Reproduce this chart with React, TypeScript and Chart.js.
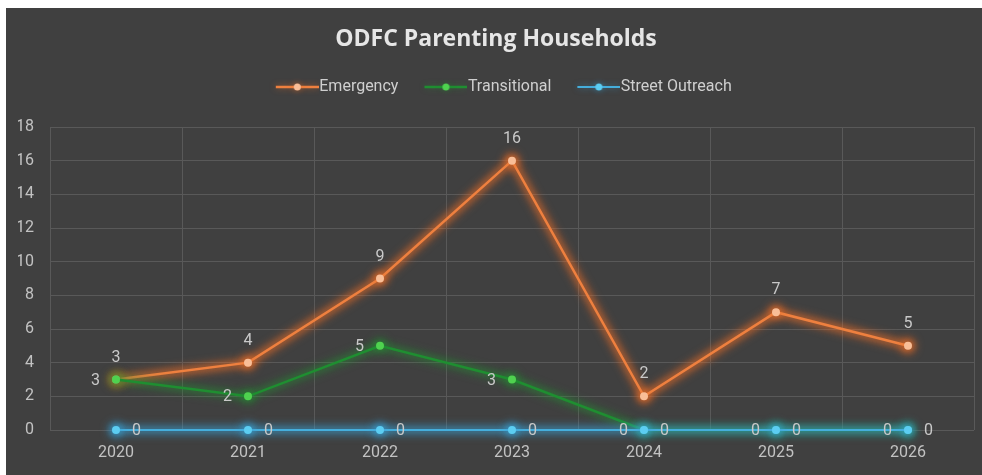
import React, { useEffect, useRef } from "react";
import { Chart, registerables } from "chart.js";

Chart.register(...registerables);

// ---- data ----
const categories = ["2020", "2021", "2022", "2023", "2024", "2025", "2026"];
const emergency = [3, 4, 9, 16, 2, 7, 5];
const transitional = [3, 2, 5, 3, 0, 0, 0];
const streetOutreach = [0, 0, 0, 0, 0, 0, 0];
const seriesNames = ["Emergency", "Transitional", "Street Outreach"];
const yMin = 0;
const yMax = 18;
const yStep = 2;
const chartTitle = "ODFC Parenting Households";

// ---- styles ----
const seriesStyles = [
  { line: "#EE803F", point: "#F9BE97", glow: "rgba(235,110,40,0.55)", width: 2.5, label: "above" },
  { line: "#1F8E31", point: "#4FD24F", glow: "rgba(35,150,50,0.4)", width: 2.5, label: "left" },
  { line: "#45AEDC", point: "#5CCDF2", glow: "rgba(55,170,225,0.5)", width: 2, label: "right" },
];

const BOX_W = 51;
const ICON_W = 66;
const LINE_LEN = 43;

function makeLegendIcon(s: any): HTMLCanvasElement {
  const c = document.createElement("canvas");
  c.width = ICON_W;
  c.height = 18;
  const ctx = c.getContext("2d")!;
  ctx.shadowColor = s.glow;
  ctx.shadowBlur = 6;
  ctx.strokeStyle = s.line;
  ctx.lineWidth = s.width;
  ctx.beginPath();
  ctx.moveTo(ICON_W - LINE_LEN, 9);
  ctx.lineTo(ICON_W, 9);
  ctx.stroke();
  ctx.fillStyle = s.point;
  ctx.beginPath();
  ctx.arc(ICON_W - LINE_LEN / 2, 9, 3.5, 0, Math.PI * 2);
  ctx.fill();
  return c;
}

// soft halo drawn under each series (Excel-style glow)
const glowPlugin = {
  id: "glowPlugin",
  beforeDatasetDraw(chart: any, args: any) {
    const s = seriesStyles[args.index];
    const ctx = chart.ctx;
    const pts = args.meta.data;
    ctx.save();
    ctx.filter = "blur(4px)";
    ctx.strokeStyle = s.glow;
    ctx.lineWidth = 9;
    ctx.lineJoin = "round";
    ctx.lineCap = "round";
    ctx.beginPath();
    pts.forEach((p: any, k: number) => {
      const { x, y } = p.getProps(["x", "y"], true);
      if (k === 0) ctx.moveTo(x, y);
      else ctx.lineTo(x, y);
    });
    ctx.stroke();
    ctx.fillStyle = s.glow;
    pts.forEach((p: any) => {
      const { x, y } = p.getProps(["x", "y"], true);
      ctx.beginPath();
      ctx.arc(x, y, 8, 0, Math.PI * 2);
      ctx.fill();
    });
    ctx.restore();
    ctx.save();
    ctx.shadowColor = s.glow;
    ctx.shadowBlur = 6;
  },
  afterDatasetDraw(chart: any) {
    chart.ctx.restore();
  },
};

const dataLabelPlugin = {
  id: "dataLabelPlugin",
  afterDatasetsDraw(chart: any) {
    const ctx = chart.ctx;
    ctx.save();
    ctx.font = "16px Roboto";
    ctx.fillStyle = "#c9c9c9";
    ctx.textBaseline = "middle";
    chart.data.datasets.forEach((ds: any, i: number) => {
      const meta = chart.getDatasetMeta(i);
      const pos = seriesStyles[i].label;
      meta.data.forEach((pt: any, j: number) => {
        const v = ds.data[j];
        if (v === null || v === undefined) return;
        const { x, y } = pt.getProps(["x", "y"], true);
        if (pos === "above") {
          ctx.textAlign = "center";
          ctx.fillText(String(v), x, y - 22);
        } else if (pos === "left") {
          ctx.textAlign = "right";
          ctx.fillText(String(v), x - 16, y + 1);
        } else {
          ctx.textAlign = "left";
          ctx.fillText(String(v), x + 16, y + 1);
        }
      });
    });
    ctx.restore();
  },
};

export default function App() {
  const canvasRef = useRef<HTMLCanvasElement | null>(null);

  useEffect(() => {
    if (!canvasRef.current) return;
    const icons = seriesStyles.map(makeLegendIcon);
    const seriesData = [emergency, transitional, streetOutreach];
    const chart = new Chart(canvasRef.current, {
      type: "line",
      data: {
        labels: categories,
        datasets: seriesData.map((d, i) => ({
          label: seriesNames[i],
          data: d,
          borderColor: seriesStyles[i].line,
          borderWidth: seriesStyles[i].width,
          backgroundColor: seriesStyles[i].point,
          pointBackgroundColor: seriesStyles[i].point,
          pointBorderColor: seriesStyles[i].point,
          pointBorderWidth: 0,
          pointRadius: 4,
          tension: 0,
          fill: false,
          clip: false,
          order: 3 - i,
        })),
      },
      options: {
        animation: false,
        responsive: false,
        events: [],
        layout: { padding: { left: 12, right: 8, top: 0, bottom: 0 } },
        plugins: {
          title: {
            display: true,
            text: chartTitle,
            color: "#e6e6e6",
            font: { family: "'Open Sans'", size: 23, weight: "bold", lineHeight: 1 },
            padding: { top: 20, bottom: 17.5 },
          },
          subtitle: {
            display: true,
            text: "",
            position: "top",
            weight: 500,
            padding: 0,
            font: { size: 10, lineHeight: 2.2 },
          } as any,
          legend: {
            display: true,
            position: "top",
            labels: {
              usePointStyle: true,
              pointStyleWidth: BOX_W,
              boxHeight: 12,
              padding: 10.5,
              color: "#cfcfcf",
              font: { family: "Roboto", size: 16 },
              generateLabels: (ch: any) =>
                ch.data.datasets.map((ds: any, i: number) => ({
                  text: ds.label,
                  pointStyle: icons[i],
                  fillStyle: "rgba(0,0,0,0)",
                  strokeStyle: "rgba(0,0,0,0)",
                  lineWidth: 0,
                  hidden: false,
                  datasetIndex: i,
                  fontColor: "#cfcfcf",
                })),
            },
          },
          tooltip: { enabled: false },
        },
        scales: {
          x: {
            offset: true,
            grid: { color: "#595959", lineWidth: 1, offset: true, drawTicks: false },
            border: { display: false },
            ticks: { color: "#c2c2c2", font: { family: "Roboto", size: 16 }, padding: 13, maxRotation: 0 },
            afterFit: (s: any) => {
              s.height = 45;
            },
          },
          y: {
            min: yMin,
            max: yMax,
            grid: { color: "#595959", lineWidth: 1, drawTicks: false },
            border: { display: false },
            ticks: { stepSize: yStep, color: "#c2c2c2", font: { family: "Roboto", size: 16 }, padding: 16 },
            afterFit: (s: any) => {
              s.width = 32;
            },
          },
        },
      },
      plugins: [glowPlugin, dataLabelPlugin],
    } as any);
    return () => chart.destroy();
  }, []);

  return (
    <div
      style={{
        position: "absolute",
        left: 6,
        top: 8,
        width: 976,
        height: 467,
        background: "#404040",
      }}
    >
      <canvas ref={canvasRef} width={976} height={467} style={{ display: "block" }} />
    </div>
  );
}
